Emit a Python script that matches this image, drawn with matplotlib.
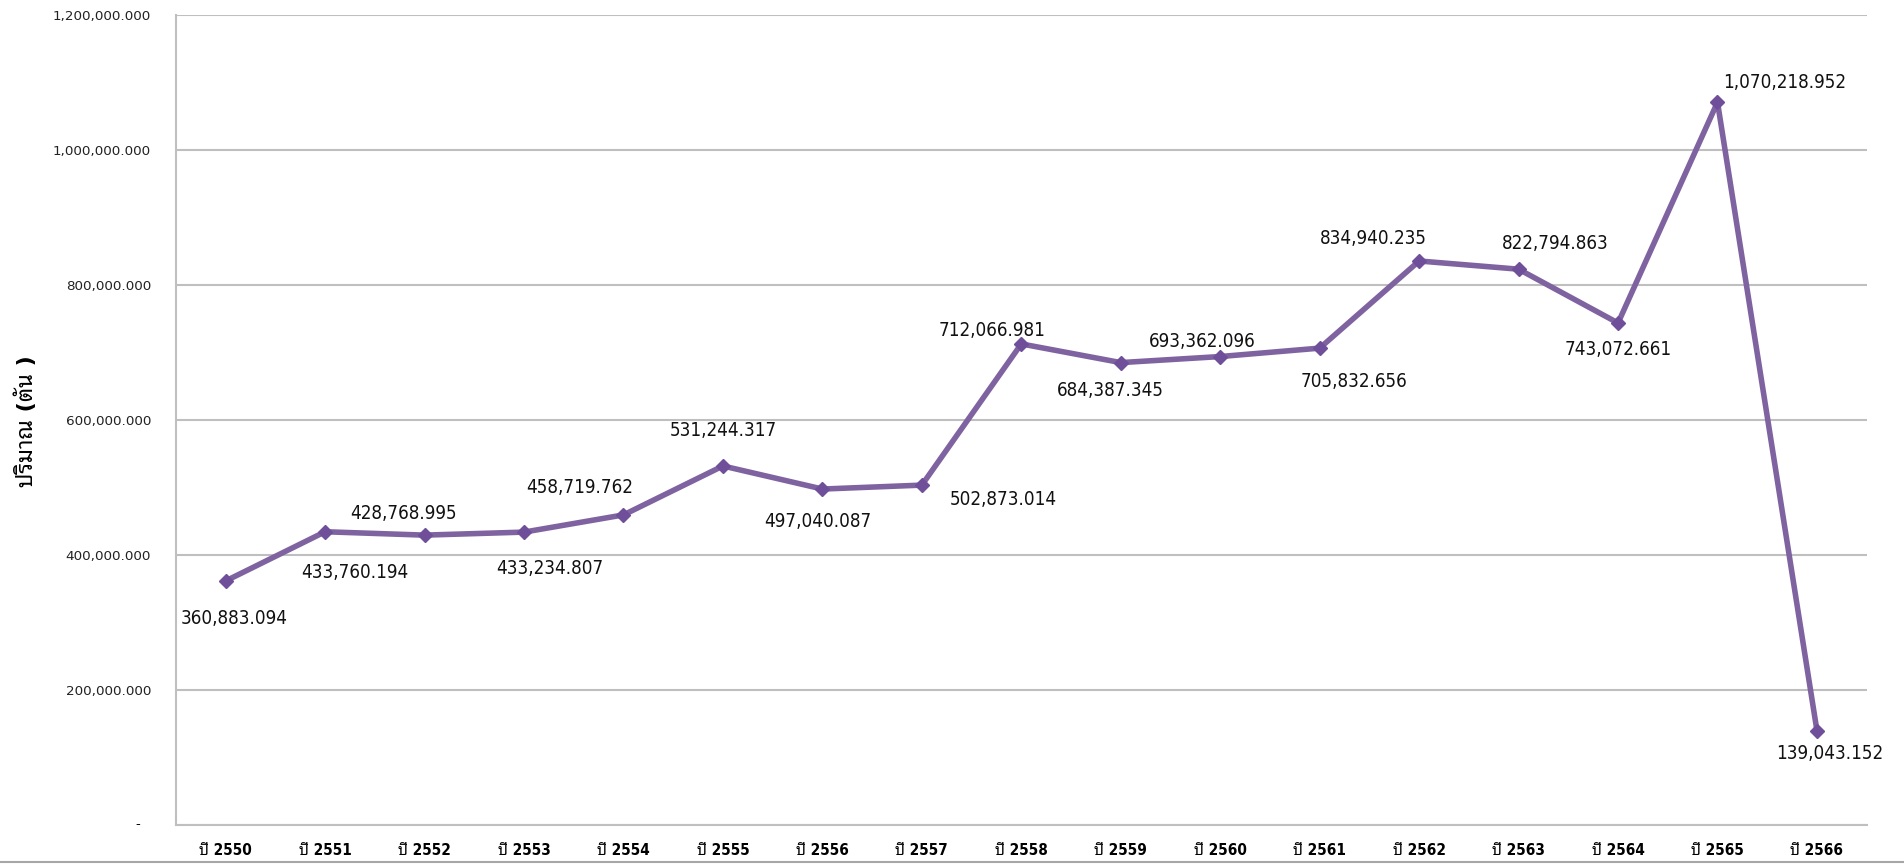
import matplotlib
matplotlib.use("Agg")
import matplotlib.pyplot as plt
from matplotlib.lines import Line2D
from matplotlib.ticker import FuncFormatter

years = ["ปี 2550", "ปี 2551", "ปี 2552", "ปี 2553", "ปี 2554", "ปี 2555",
         "ปี 2556", "ปี 2557", "ปี 2558", "ปี 2559", "ปี 2560", "ปี 2561",
         "ปี 2562", "ปี 2563", "ปี 2564", "ปี 2565", "ปี 2566"]
amounts = [360883.094, 433760.194, 428768.995, 433234.807, 458719.762,
           531244.317, 497040.087, 502873.014, 712066.981, 684387.345,
           693362.096, 705832.656, 834940.235, 822794.863, 743072.661,
           1070218.952, 139043.152]
# text shown on each point (as printed in the original, commas and all)
point_labels = ["360,883.094", "433,760.194", "428,768.995", "433,234.807",
                "458,719.762", "531,244.317", "497,040.087", "502,873.014",
                "712,066.981", "684,387.345", "693,362.096", "705,832.656",
                "834,940.235", "822,794.863", "743,072.661", "1,070,218.952",
                "139,043.152"]
yticks = [0, 200000, 400000, 600000, 800000, 1000000, 1200000]

# where each label sits relative to its point (pixels, x right / y up)
label_offsets = [(9, -38), (30, -41), (-21, 22), (26, -36), (-44, 27), (0, 35),
                 (-5, -32), (81, -14), (-29, 13), (-10, -28), (-18, 15), (34, -33),
                 (-46, 22), (37, 26), (0, -27), (67, 20), (13, -23)]

plt.rcParams["font.family"] = ["DejaVu Sans", "Noto Sans Thai Looped",
                               "Noto Sans Thai", "Sarabun"]

fig = plt.figure(figsize=(19.04, 8.64), dpi=100)
ax = fig.add_axes([0.0924, 0.0457, 0.888, 0.9374])

x = list(range(len(years)))
ax.plot(x, amounts, color="#7f63a1", linewidth=4, marker="D", markersize=7,
        markerfacecolor="#6f4f9a", markeredgecolor="#6f4f9a", zorder=3)

for xi, yi, txt, off in zip(x, amounts, point_labels, label_offsets):
    ax.annotate(txt, (xi, yi), xytext=off, textcoords="offset pixels",
                ha="center", va="center", fontsize=13.5, fontstretch="condensed",
                color="#111111")

ax.set_xlim(-0.5, len(years) - 0.5)
ax.set_ylim(0, 1200000)
ax.set_xticks(x)
ax.set_xticklabels(years, fontsize=11, fontweight="bold", fontstretch="condensed")
ax.set_yticks(yticks)
ax.yaxis.set_major_formatter(FuncFormatter(lambda v, p: "" if v == 0 else f"{v:,.3f}"))
ax.annotate("-", (0, 0), xycoords=("axes fraction", "data"), xytext=(-36, 0),
            textcoords="offset pixels", ha="right", va="center", fontsize=9.7)
ax.tick_params(axis="y", length=0, pad=18, labelsize=9.7, labelcolor="#222222")
ax.tick_params(axis="x", length=0, pad=13)

ax.grid(axis="y", color="#bfbfbf", linewidth=1.5)
ax.set_axisbelow(True)
for s in ["top", "right"]:
    ax.spines[s].set_visible(False)
for s in ["left", "bottom"]:
    ax.spines[s].set_color("#bfbfbf")
    ax.spines[s].set_linewidth(1.5)

fig.text(0.0137, 0.513, "ปริมาณ (ตัน )", rotation=90, ha="center", va="center",
         fontsize=16, fontweight="bold")

# thin frame line along the bottom edge of the image
fig.add_artist(Line2D([0, 1], [0.002, 0.002], color="#a6a6a6", linewidth=1.5,
                      transform=fig.transFigure))

fig.savefig("out.png", dpi=100)
